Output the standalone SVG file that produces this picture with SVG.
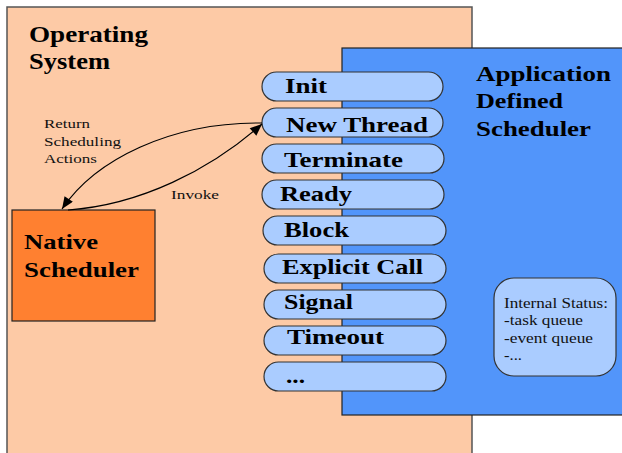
<svg xmlns="http://www.w3.org/2000/svg" width="622" height="453" viewBox="0 0 622 453" font-family="'Liberation Serif', 'Times New Roman', serif">
<style>
text{lengthAdjust:spacingAndGlyphs}
.bt{font-weight:bold;fill:#000}
.rt{fill:#111}
.pill{fill:#aaccff;stroke:#333;stroke-width:1.2}
.pt{font-weight:bold;font-size:22px;fill:#000}
.cn{fill:none;stroke:#000;stroke-width:1.2}
</style>
<defs>
<marker id="ah" viewBox="0 0 12 10" refX="12" refY="5" markerWidth="13" markerHeight="10" markerUnits="userSpaceOnUse" orient="auto"><path d="M0,0 L12,5 L0,10 z" fill="#000"/></marker>
</defs>
<rect width="622" height="453" fill="#fff"/>
<g id="os">
<rect x="7" y="7" width="465" height="460" fill="#fdcaa6" stroke="#555" stroke-width="1.5"/>
<text class="bt" font-size="24" x="29" y="42" textLength="119" lengthAdjust="spacingAndGlyphs">Operating</text>
<text class="bt" font-size="24" x="29" y="69" textLength="81" lengthAdjust="spacingAndGlyphs">System</text>
</g>
<g id="app">
<rect x="342" y="48" width="290" height="367" fill="#5295fa" stroke="#222" stroke-width="1.2"/>
<text class="bt" font-size="22" x="476" y="81" textLength="135" lengthAdjust="spacingAndGlyphs">Application</text>
<text class="bt" font-size="22" x="476" y="108" textLength="87" lengthAdjust="spacingAndGlyphs">Defined</text>
<text class="bt" font-size="22" x="476" y="136" textLength="115" lengthAdjust="spacingAndGlyphs">Scheduler</text>
</g>
<g id="native">
<rect x="12" y="210" width="143" height="111" fill="#ff8030" stroke="#222" stroke-width="1.2"/>
<text class="bt" font-size="22" x="24" y="249" textLength="74" lengthAdjust="spacingAndGlyphs">Native</text>
<text class="bt" font-size="22" x="24" y="277" textLength="115" lengthAdjust="spacingAndGlyphs">Scheduler</text>
</g>
<g id="p-init"><rect class="pill" x="262" y="72" width="181" height="29" rx="14.5"/><text class="pt" x="285" y="93" textLength="42" lengthAdjust="spacingAndGlyphs">Init</text></g>
<g id="p-new"><rect class="pill" x="262" y="108" width="181" height="29" rx="14.5"/><text class="pt" x="286" y="132" textLength="142" lengthAdjust="spacingAndGlyphs">New Thread</text></g>
<g id="p-term"><rect class="pill" x="262" y="144" width="182" height="29" rx="14.5"/><text class="pt" x="284" y="167" textLength="119" lengthAdjust="spacingAndGlyphs">Terminate</text></g>
<g id="p-ready"><rect class="pill" x="262" y="180" width="182" height="29" rx="14.5"/><text class="pt" x="280" y="201" textLength="72" lengthAdjust="spacingAndGlyphs">Ready</text></g>
<g id="p-block"><rect class="pill" x="263" y="216" width="183" height="29" rx="14.5"/><text class="pt" x="284" y="237" textLength="65" lengthAdjust="spacingAndGlyphs">Block</text></g>
<g id="p-explicit"><rect class="pill" x="264" y="254" width="182" height="29" rx="14.5"/><text class="pt" x="282" y="274" textLength="141" lengthAdjust="spacingAndGlyphs">Explicit Call</text></g>
<g id="p-signal"><rect class="pill" x="264" y="290" width="182" height="29" rx="14.5"/><text class="pt" x="284" y="309" textLength="69" lengthAdjust="spacingAndGlyphs">Signal</text></g>
<g id="p-timeout"><rect class="pill" x="264" y="326" width="182" height="29" rx="14.5"/><text class="pt" x="287" y="344" textLength="97" lengthAdjust="spacingAndGlyphs">Timeout</text></g>
<g id="p-more"><rect class="pill" x="264" y="362" width="182" height="29" rx="14.5"/><text class="pt" x="286" y="383" textLength="19" lengthAdjust="spacingAndGlyphs">...</text></g>
<g id="status">
<rect x="494" y="278" width="122" height="98" rx="20" fill="#aaccff" stroke="#333" stroke-width="1.2"/>
<text class="rt" font-size="14" x="504" y="308" textLength="104" lengthAdjust="spacingAndGlyphs">Internal Status:</text>
<text class="rt" font-size="14" x="504" y="325" textLength="79" lengthAdjust="spacingAndGlyphs">-task queue</text>
<text class="rt" font-size="14" x="504" y="343" textLength="89" lengthAdjust="spacingAndGlyphs">-event queue</text>
<text class="rt" font-size="14" x="504" y="360" textLength="18" lengthAdjust="spacingAndGlyphs">-...</text>
</g>
<g id="connectors">
<path class="cn" d="M262,123 C170,122 95,160 62,209" marker-end="url(#ah)"/>
<path class="cn" d="M68,210 C140,205 210,170 262,124" marker-end="url(#ah)"/>
<text class="rt" font-size="13.5" x="44" y="128" textLength="46" lengthAdjust="spacingAndGlyphs">Return</text>
<text class="rt" font-size="13.5" x="44" y="146" textLength="77" lengthAdjust="spacingAndGlyphs">Scheduling</text>
<text class="rt" font-size="13.5" x="44" y="163" textLength="53" lengthAdjust="spacingAndGlyphs">Actions</text>
<text class="rt" font-size="13.5" x="171" y="199" textLength="48" lengthAdjust="spacingAndGlyphs">Invoke</text>
</g>
</svg>
